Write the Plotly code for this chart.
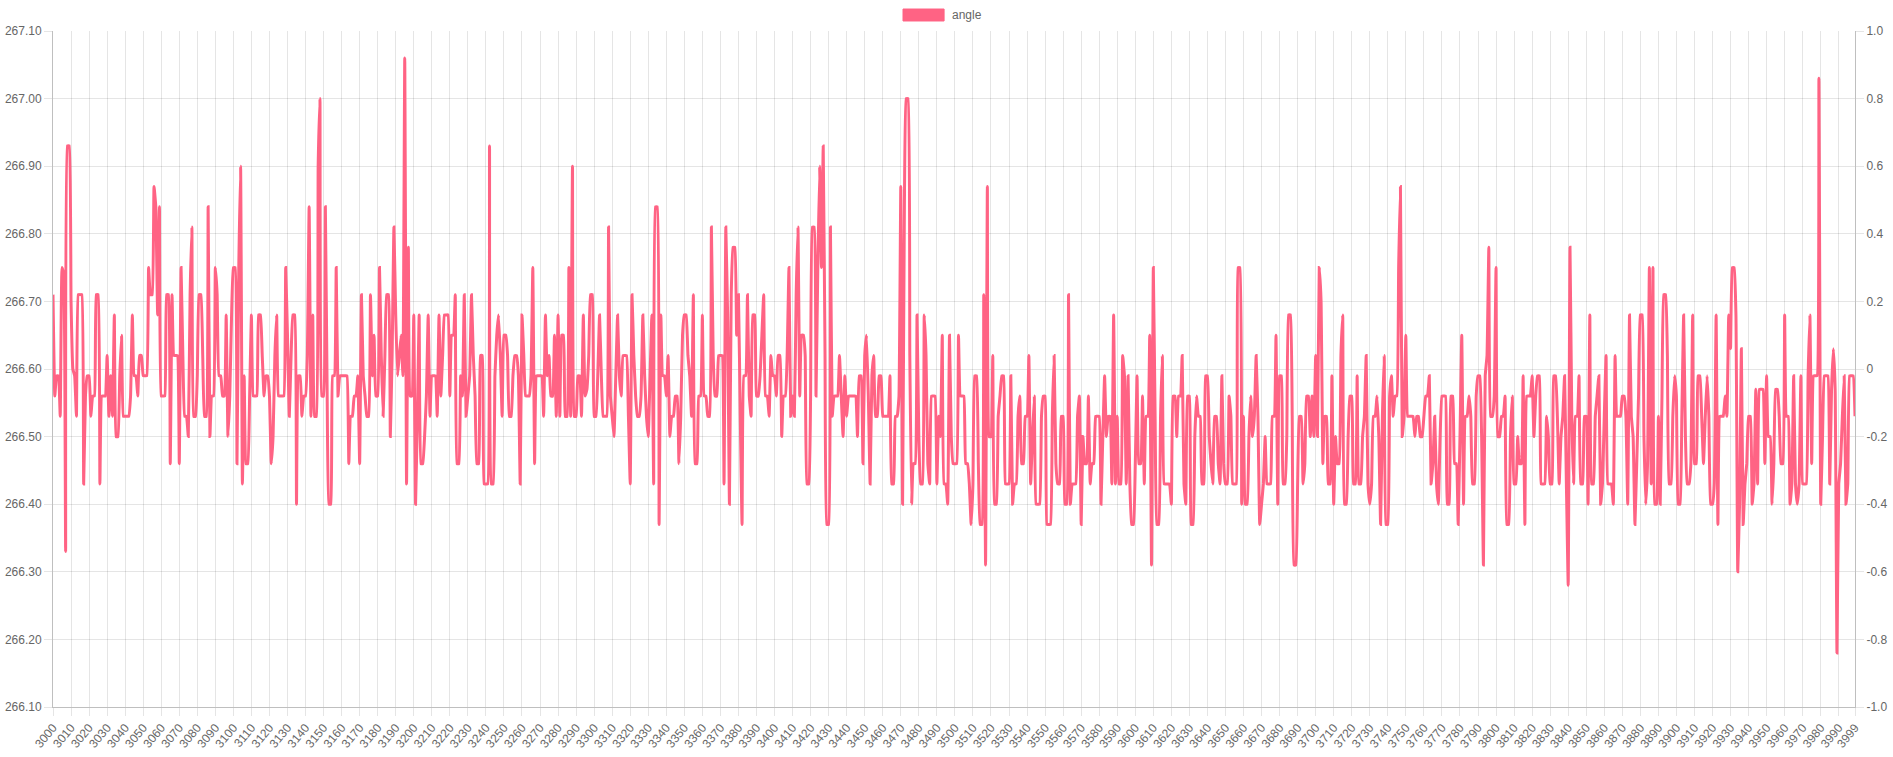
"""
Line chart of the 'angle' signal over frames 3000-3999.
"""
import plotly.graph_objects as go

FRAME_START = 3000

# angle per frame, 3000..3999 (10 frames per row)
angle = [
    266.71, 266.56, 266.59, 266.59, 266.53, 266.75, 266.74, 266.33, 266.93, 266.93,
    266.70, 266.60, 266.59, 266.53, 266.71, 266.71, 266.71, 266.43, 266.56, 266.59,
    266.59, 266.53, 266.56, 266.56, 266.71, 266.71, 266.43, 266.56, 266.56, 266.56,
    266.62, 266.53, 266.59, 266.53, 266.68, 266.50, 266.50, 266.59, 266.65, 266.53,
    266.53, 266.53, 266.53, 266.56, 266.68, 266.59, 266.59, 266.56, 266.62, 266.62,
    266.59, 266.59, 266.59, 266.75, 266.71, 266.71, 266.87, 266.84, 266.68, 266.84,
    266.56, 266.56, 266.56, 266.71, 266.71, 266.46, 266.71, 266.62, 266.62, 266.62,
    266.46, 266.75, 266.62, 266.53, 266.53, 266.50, 266.71, 266.81, 266.53, 266.53,
    266.59, 266.71, 266.71, 266.62, 266.53, 266.53, 266.84, 266.50, 266.56, 266.56,
    266.75, 266.71, 266.59, 266.59, 266.56, 266.56, 266.68, 266.50, 266.56, 266.68,
    266.75, 266.75, 266.46, 266.75, 266.90, 266.43, 266.59, 266.46, 266.46, 266.56,
    266.68, 266.56, 266.56, 266.56, 266.68, 266.68, 266.62, 266.56, 266.59, 266.59,
    266.56, 266.46, 266.50, 266.62, 266.68, 266.56, 266.56, 266.56, 266.56, 266.75,
    266.65, 266.53, 266.62, 266.68, 266.68, 266.40, 266.59, 266.59, 266.53, 266.56,
    266.56, 266.62, 266.84, 266.53, 266.68, 266.53, 266.53, 266.90, 267.00, 266.56,
    266.56, 266.84, 266.56, 266.40, 266.40, 266.59, 266.59, 266.75, 266.56, 266.59,
    266.59, 266.59, 266.59, 266.59, 266.46, 266.53, 266.53, 266.56, 266.56, 266.59,
    266.46, 266.71, 266.59, 266.56, 266.53, 266.53, 266.71, 266.59, 266.65, 266.56,
    266.56, 266.75, 266.62, 266.53, 266.62, 266.71, 266.71, 266.50, 266.62, 266.81,
    266.68, 266.59, 266.62, 266.65, 266.59, 267.06, 266.43, 266.78, 266.56, 266.56,
    266.68, 266.40, 266.53, 266.68, 266.46, 266.46, 266.50, 266.56, 266.68, 266.53,
    266.59, 266.59, 266.59, 266.53, 266.68, 266.56, 266.62, 266.68, 266.68, 266.68,
    266.56, 266.65, 266.65, 266.71, 266.46, 266.46, 266.59, 266.56, 266.71, 266.53,
    266.56, 266.59, 266.71, 266.62, 266.56, 266.46, 266.46, 266.62, 266.62, 266.43,
    266.43, 266.43, 266.93, 266.43, 266.43, 266.59, 266.65, 266.68, 266.62, 266.53,
    266.65, 266.65, 266.62, 266.53, 266.53, 266.59, 266.62, 266.62, 266.59, 266.43,
    266.68, 266.62, 266.56, 266.56, 266.56, 266.59, 266.75, 266.46, 266.59, 266.59,
    266.59, 266.59, 266.53, 266.68, 266.59, 266.62, 266.56, 266.56, 266.65, 266.53,
    266.68, 266.53, 266.65, 266.65, 266.53, 266.53, 266.75, 266.53, 266.90, 266.53,
    266.53, 266.59, 266.59, 266.53, 266.68, 266.56, 266.57, 266.62, 266.71, 266.71,
    266.53, 266.53, 266.59, 266.68, 266.59, 266.53, 266.53, 266.53, 266.81, 266.56,
    266.53, 266.50, 266.59, 266.68, 266.59, 266.56, 266.62, 266.62, 266.62, 266.53,
    266.43, 266.71, 266.62, 266.56, 266.53, 266.53, 266.56, 266.68, 266.59, 266.53,
    266.50, 266.59, 266.68, 266.43, 266.84, 266.84, 266.37, 266.68, 266.59, 266.59,
    266.56, 266.62, 266.50, 266.53, 266.53, 266.56, 266.56, 266.46, 266.53, 266.65,
    266.68, 266.68, 266.62, 266.59, 266.53, 266.71, 266.46, 266.46, 266.56, 266.56,
    266.68, 266.56, 266.56, 266.53, 266.53, 266.81, 266.62, 266.56, 266.56, 266.62,
    266.62, 266.62, 266.43, 266.81, 266.68, 266.40, 266.71, 266.78, 266.78, 266.65,
    266.71, 266.53, 266.37, 266.59, 266.59, 266.71, 266.56, 266.53, 266.68, 266.68,
    266.56, 266.56, 266.59, 266.65, 266.71, 266.56, 266.56, 266.53, 266.62, 266.59,
    266.59, 266.56, 266.62, 266.62, 266.50, 266.56, 266.56, 266.62, 266.75, 266.53,
    266.56, 266.53, 266.71, 266.81, 266.56, 266.65, 266.65, 266.62, 266.43, 266.43,
    266.56, 266.81, 266.81, 266.56, 266.75, 266.90, 266.75, 266.93, 266.62, 266.37,
    266.37, 266.81, 266.53, 266.56, 266.56, 266.56, 266.62, 266.56, 266.50, 266.59,
    266.53, 266.56, 266.56, 266.56, 266.56, 266.56, 266.50, 266.59, 266.59, 266.46,
    266.62, 266.65, 266.56, 266.43, 266.59, 266.62, 266.53, 266.53, 266.59, 266.59,
    266.53, 266.53, 266.53, 266.53, 266.59, 266.43, 266.43, 266.53, 266.53, 266.56,
    266.87, 266.40, 266.84, 267.00, 267.00, 266.62, 266.40, 266.46, 266.46, 266.68,
    266.50, 266.43, 266.43, 266.68, 266.62, 266.46, 266.43, 266.56, 266.56, 266.56,
    266.43, 266.53, 266.50, 266.65, 266.43, 266.43, 266.40, 266.65, 266.50, 266.46,
    266.46, 266.46, 266.65, 266.56, 266.56, 266.56, 266.46, 266.46, 266.43, 266.37,
    266.43, 266.59, 266.59, 266.46, 266.37, 266.37, 266.71, 266.31, 266.87, 266.50,
    266.50, 266.62, 266.40, 266.40, 266.53, 266.56, 266.59, 266.59, 266.43, 266.43,
    266.43, 266.59, 266.40, 266.43, 266.43, 266.53, 266.56, 266.46, 266.46, 266.53,
    266.53, 266.62, 266.43, 266.50, 266.56, 266.40, 266.40, 266.40, 266.53, 266.56,
    266.56, 266.37, 266.37, 266.37, 266.53, 266.62, 266.46, 266.43, 266.43, 266.53,
    266.53, 266.40, 266.40, 266.71, 266.40, 266.43, 266.43, 266.43, 266.53, 266.56,
    266.37, 266.50, 266.46, 266.46, 266.56, 266.43, 266.46, 266.46, 266.53, 266.53,
    266.53, 266.40, 266.50, 266.59, 266.50, 266.53, 266.53, 266.43, 266.68, 266.43,
    266.53, 266.43, 266.43, 266.62, 266.59, 266.43, 266.59, 266.43, 266.37, 266.37,
    266.46, 266.59, 266.46, 266.46, 266.56, 266.43, 266.53, 266.53, 266.65, 266.31,
    266.75, 266.53, 266.37, 266.37, 266.53, 266.62, 266.43, 266.43, 266.43, 266.43,
    266.40, 266.56, 266.56, 266.50, 266.56, 266.56, 266.62, 266.43, 266.40, 266.56,
    266.56, 266.37, 266.37, 266.50, 266.56, 266.53, 266.53, 266.43, 266.43, 266.59,
    266.59, 266.50, 266.46, 266.43, 266.53, 266.53, 266.46, 266.43, 266.59, 266.46,
    266.43, 266.43, 266.56, 266.53, 266.43, 266.43, 266.43, 266.75, 266.75, 266.40,
    266.53, 266.40, 266.40, 266.50, 266.56, 266.50, 266.53, 266.62, 266.53, 266.37,
    266.40, 266.43, 266.50, 266.43, 266.43, 266.43, 266.53, 266.53, 266.65, 266.40,
    266.59, 266.59, 266.43, 266.43, 266.50, 266.68, 266.68, 266.53, 266.31, 266.31,
    266.43, 266.53, 266.53, 266.43, 266.46, 266.56, 266.56, 266.50, 266.56, 266.50,
    266.62, 266.50, 266.75, 266.70, 266.46, 266.53, 266.53, 266.43, 266.43, 266.59,
    266.40, 266.50, 266.46, 266.46, 266.62, 266.68, 266.40, 266.40, 266.50, 266.56,
    266.56, 266.43, 266.43, 266.59, 266.43, 266.43, 266.50, 266.53, 266.62, 266.43,
    266.40, 266.43, 266.53, 266.53, 266.56, 266.50, 266.37, 266.53, 266.62, 266.37,
    266.37, 266.56, 266.59, 266.53, 266.56, 266.56, 266.75, 266.87, 266.50, 266.53,
    266.65, 266.53, 266.53, 266.53, 266.53, 266.50, 266.53, 266.53, 266.50, 266.50,
    266.53, 266.56, 266.56, 266.59, 266.43, 266.46, 266.53, 266.43, 266.40, 266.50,
    266.56, 266.56, 266.56, 266.40, 266.40, 266.56, 266.56, 266.46, 266.46, 266.37,
    266.50, 266.65, 266.40, 266.53, 266.53, 266.56, 266.53, 266.43, 266.43, 266.56,
    266.59, 266.59, 266.50, 266.31, 266.59, 266.62, 266.78, 266.53, 266.53, 266.56,
    266.75, 266.50, 266.50, 266.53, 266.53, 266.56, 266.37, 266.37, 266.50, 266.56,
    266.43, 266.43, 266.50, 266.46, 266.46, 266.59, 266.37, 266.56, 266.56, 266.56,
    266.59, 266.50, 266.56, 266.59, 266.59, 266.43, 266.43, 266.43, 266.53, 266.50,
    266.43, 266.43, 266.59, 266.59, 266.53, 266.43, 266.50, 266.53, 266.59, 266.43,
    266.28, 266.78, 266.53, 266.43, 266.53, 266.53, 266.59, 266.43, 266.43, 266.53,
    266.53, 266.40, 266.68, 266.43, 266.43, 266.53, 266.56, 266.59, 266.40, 266.43,
    266.53, 266.62, 266.43, 266.43, 266.43, 266.40, 266.62, 266.53, 266.53, 266.53,
    266.56, 266.56, 266.53, 266.40, 266.68, 266.53, 266.50, 266.37, 266.46, 266.56,
    266.68, 266.68, 266.50, 266.40, 266.46, 266.75, 266.43, 266.75, 266.40, 266.40,
    266.53, 266.40, 266.56, 266.71, 266.71, 266.62, 266.43, 266.43, 266.53, 266.59,
    266.56, 266.40, 266.40, 266.53, 266.68, 266.50, 266.43, 266.43, 266.46, 266.68,
    266.46, 266.46, 266.59, 266.59, 266.53, 266.46, 266.53, 266.59, 266.53, 266.40,
    266.40, 266.43, 266.68, 266.37, 266.53, 266.53, 266.53, 266.56, 266.53, 266.68,
    266.63, 266.75, 266.75, 266.68, 266.30, 266.40, 266.63, 266.37, 266.43, 266.46,
    266.53, 266.53, 266.40, 266.43, 266.57, 266.43, 266.57, 266.57, 266.57, 266.46,
    266.59, 266.50, 266.50, 266.40, 266.46, 266.57, 266.57, 266.53, 266.46, 266.46,
    266.68, 266.53, 266.53, 266.40, 266.43, 266.59, 266.43, 266.40, 266.43, 266.59,
    266.43, 266.43, 266.43, 266.59, 266.68, 266.46, 266.59, 266.59, 266.59, 267.03,
    266.40, 266.50, 266.59, 266.59, 266.59, 266.43, 266.57, 266.63, 266.57, 266.18,
    266.43, 266.46, 266.53, 266.59, 266.40, 266.43, 266.59, 266.59, 266.59, 266.53,
]
if len(angle) != 1000:
    raise ValueError(f"expected 1000 values, got {len(angle)}")

frames = list(range(FRAME_START, FRAME_START + len(angle)))

# labelled frames on the x axis (every 10th plus the last one)
x_tick_vals = list(range(3000, 4000, 10)) + [3999]
x_tick_text = [str(v) for v in x_tick_vals]

# right-hand axis
y2_tick_vals = [1.0, 0.8, 0.6, 0.4, 0.2, 0, -0.2, -0.4, -0.6, -0.8, -1.0]
y2_tick_text = ["1.0", "0.8", "0.6", "0.4", "0.2", "0", "-0.2", "-0.4", "-0.6", "-0.8", "-1.0"]

PINK = "rgb(255, 99, 132)"
GRID = "rgba(0,0,0,0.1)"
BORDER = "rgba(0,0,0,0.25)"
TEXT = "#666666"
FONT = "Liberation Sans, Arial, Helvetica, sans-serif"

fig = go.Figure()
fig.add_trace(go.Scatter(
    x=frames,
    y=angle,
    mode="lines",
    name="angle",
    line=dict(color=PINK, width=3, shape="spline", smoothing=0.3),
    showlegend=False,
))
# empty series so the right-hand axis gets drawn
fig.add_trace(go.Scatter(x=[], y=[], yaxis="y2", showlegend=False, hoverinfo="skip"))

tick_font = dict(family=FONT, size=12, color=TEXT)

fig.update_layout(
    width=1893,
    height=757,
    paper_bgcolor="white",
    plot_bgcolor="white",
    margin=dict(l=53, r=38, t=31, b=50),
    font=dict(family=FONT, size=12, color=TEXT),
    xaxis=dict(
        range=[3000, 3999],
        tickmode="array",
        tickvals=x_tick_vals,
        ticktext=x_tick_text,
        tickangle=-50,
        showgrid=True,
        gridcolor=GRID,
        zeroline=False,
        showline=True,
        linecolor=BORDER,
        ticks="outside",
        ticklen=8,
        tickcolor=GRID,
        tickfont=tick_font,
        automargin=False,
    ),
    yaxis=dict(
        range=[266.1, 267.1],
        tick0=266.1,
        dtick=0.1,
        tickformat=".2f",
        showgrid=True,
        gridcolor=GRID,
        zeroline=False,
        showline=True,
        linecolor=BORDER,
        ticks="outside",
        ticklen=8,
        tickcolor=GRID,
        tickfont=tick_font,
        automargin=False,
    ),
    yaxis2=dict(
        overlaying="y",
        side="right",
        range=[-1, 1],
        tickmode="array",
        tickvals=y2_tick_vals,
        ticktext=y2_tick_text,
        showgrid=False,
        zeroline=False,
        showline=True,
        linecolor=BORDER,
        ticks="outside",
        ticklen=8,
        tickcolor=GRID,
        tickfont=tick_font,
        automargin=False,
    ),
    showlegend=False,
)

# legend drawn like the Chart.js box legend
fig.add_shape(
    type="rect", xref="paper", yref="paper",
    x0=0.4717, x1=0.4945, y0=1.0148, y1=1.0325,
    fillcolor=PINK, line=dict(color=PINK, width=1),
)
fig.add_annotation(
    x=0.4978, y=1.0237, xref="paper", yref="paper",
    text="angle", showarrow=False, xanchor="left", yanchor="middle",
    font=tick_font,
)

# drop the browser's default body margin so the figure fills the window
fig.write_html(
    "out.html",
    config={"displayModeBar": False},
    post_script="document.body.style.margin = '0';",
)
